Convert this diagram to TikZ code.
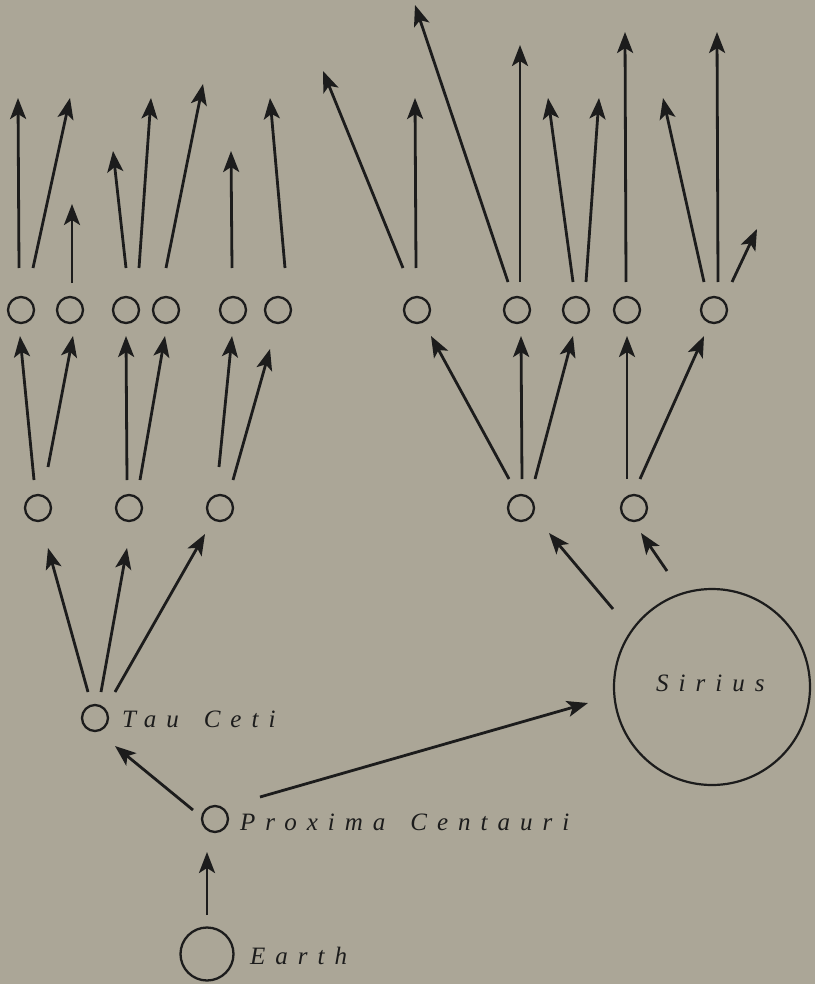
\documentclass[tikz,border=0pt]{standalone}
\usepackage{fontspec}
\setmainfont{Liberation Serif}
\newfontfamily\starfont[LetterSpace=40]{Liberation Serif}
\usetikzlibrary{arrows.meta,calc}
\definecolor{bgc}{RGB}{171,166,151}
\definecolor{ink}{RGB}{28,28,28}
\tikzset{
  star/.style={circle, draw=ink, line width=2.3pt, minimum size=26pt, inner sep=0pt},
  arr/.style={draw=ink, line width=2.8pt, -{Stealth[length=21pt,width=16pt,inset=5pt]}},
  lbl/.style={anchor=base west, inner sep=0pt, text=ink, font=\fontsize{25}{25}\starfont\itshape},
}
\begin{document}
\begin{tikzpicture}[x=1pt,y=-1pt]
\fill[bgc] (0,0) rectangle (815,984);
\useasboundingbox (0,0) rectangle (815,984);
% level 3 circles
\node[star] (L3a) at (21,310) {};
\node[star] (L3b) at (70,310) {};
\node[star] (L3c) at (126,310) {};
\node[star] (L3d) at (166,310) {};
\node[star] (L3e) at (233,310) {};
\node[star] (L3f) at (278,310) {};
\node[star] (R3a) at (417,310) {};
\node[star] (R3b) at (517,310) {};
\node[star] (R3c) at (576,310) {};
\node[star] (R3d) at (627,310) {};
\node[star] (R3e) at (714,310) {};
% level 2 circles
\node[star] (L2a) at (38,508) {};
\node[star] (L2b) at (129,508) {};
\node[star] (L2c) at (220,508) {};
\node[star] (R2a) at (521,508) {};
\node[star] (R2b) at (634,508) {};
% named stars
\node[star] (tau) at (95,718) {};
\node[star] (prox) at (215,819) {};
\node[star, minimum size=53pt] (earth) at (207,954) {};
\node[star, line width=2.2pt, minimum size=196pt] (sirius) at (712,687) {};
% labels
\node[lbl] (lsirius) at (656,691) {Sirius};
\node[lbl] (ltau) at (122,727) {Tau\hspace{25pt}Ceti};
\node[lbl] (lprox) at (240,830) {Proxima\hspace{25pt}Centauri};
\node[lbl] (learth) at (250,964) {Earth};
% free tips
\coordinate (t1) at (18,98);
\coordinate (t2) at (70,98);
\coordinate (t3) at (72,204);
\coordinate (t4) at (113,151);
\coordinate (t5) at (151,98);
\coordinate (t6) at (203,84);
\coordinate (t7) at (231,151);
\coordinate (t8) at (270,98);
\coordinate (t9) at (323,71);
\coordinate (t10) at (415,98);
\coordinate (t11) at (415,5);
\coordinate (t12) at (520,45);
\coordinate (t13) at (548,98);
\coordinate (t14) at (599,98);
\coordinate (t15) at (625,32);
\coordinate (t16) at (663,98);
\coordinate (t17) at (717,32);
\coordinate (t18) at (757,229);
% top arrows
\draw[arr] ($(L3a)+(-2,-42)$) -- (t1);
\draw[arr] ($(L3a)+(12,-42)$) -- (t2);
\draw[arr] ($(L3b)+(2,-27)$) -- (t3);
\draw[arr] ($(L3c)+(0,-42)$) -- (t4);
\draw[arr] ($(L3c)+(13,-42)$) -- (t5);
\draw[arr] ($(L3d)+(0,-42)$) -- (t6);
\draw[arr] ($(L3e)+(-1,-42)$) -- (t7);
\draw[arr] ($(L3f)+(7,-42)$) -- (t8);
\draw[arr] ($(R3a)+(-14,-42)$) -- (t9);
\draw[arr] ($(R3a)+(-1,-42)$) -- (t10);
\draw[arr] ($(R3b)+(-9,-28)$) -- (t11);
\draw[arr] ($(R3b)+(3,-28)$) -- (t12);
\draw[arr] ($(R3c)+(-3,-28)$) -- (t13);
\draw[arr] ($(R3c)+(10,-28)$) -- (t14);
\draw[arr] ($(R3d)+(-1,-28)$) -- (t15);
\draw[arr] ($(R3e)+(-10,-28)$) -- (t16);
\draw[arr] ($(R3e)+(4,-28)$) -- (t17);
\draw[arr] ($(R3e)+(18,-28)$) -- (t18);
% level 2 -> level 3
\draw[arr] ($(L2a)+(-4,-28)$) -- ($(L3a)+(-1,26)$);
\draw[arr] ($(L2a)+(10,-41)$) -- ($(L3b)+(3,26)$);
\draw[arr] ($(L2b)+(-2,-28)$) -- ($(L3c)+(0,26)$);
\draw[arr] ($(L2b)+(11,-28)$) -- ($(L3d)+(-1,26)$);
\draw[arr] ($(L2c)+(-1,-41)$) -- ($(L3e)+(-1,26)$);
\draw[arr] ($(L2c)+(13,-28)$) -- ($(L3f)+(-8,39)$);
\draw[arr] ($(R2a)+(-12,-29)$) -- ($(R3a)+(14,26)$);
\draw[arr] ($(R2a)+(1,-29)$) -- ($(R3b)+(4,26)$);
\draw[arr] ($(R2a)+(14,-29)$) -- ($(R3c)+(-3,26)$);
\draw[arr] ($(R2b)+(-7,-29)$) -- ($(R3d)+(0,26)$);
\draw[arr] ($(R2b)+(6,-29)$) -- ($(R3e)+(-10,26)$);
% stars -> level 2
\draw[arr] ($(tau)+(-7,-26)$) -- ($(L2a)+(10,40)$);
\draw[arr] ($(tau)+(6,-26)$) -- ($(L2b)+(-2,40)$);
\draw[arr] ($(tau)+(20,-26)$) -- ($(L2c)+(-15,26)$);
\draw[arr] ($(sirius)+(-99,-78)$) -- ($(R2a)+(28,25)$);
\draw[arr] ($(sirius)+(-45,-116)$) -- ($(R2b)+(7,25)$);
% lower links
\draw[arr] ($(prox)+(-22,-9)$) -- ($(tau)+(20,28)$);
\draw[arr] ($(prox)+(45,-22)$) -- ($(sirius)+(-124,16)$);
\draw[arr] ($(earth)+(0,-39)$) -- ($(prox)+(-8,33)$);
\end{tikzpicture}
\end{document}
